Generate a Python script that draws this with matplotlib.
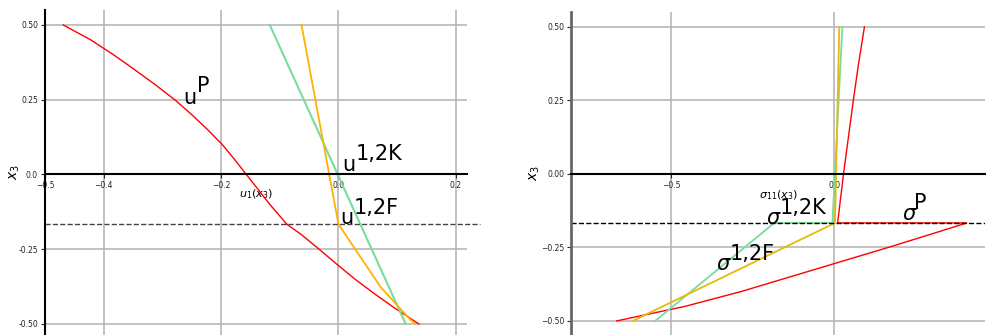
import numpy as np
import matplotlib
matplotlib.use('Agg')
import matplotlib.pyplot as plt

# Grenzfläche bei x3 = -1/6
x3_if = -1.0 / 6.0

# --- Verschiebung u1(x3) ---
x3_uP_oben = [0.5, 0.45, 0.4, 0.35, 0.3, 0.25, 0.2, 0.15, 0.1, 0.05, 0.0,
              -0.05, -0.1, x3_if]
uP_oben = [-0.469, -0.422, -0.383, -0.347, -0.312, -0.279, -0.250, -0.223,
           -0.198, -0.177, -0.157, -0.137, -0.117, -0.088]
x3_uP_unten = [x3_if, -0.2, -0.25, -0.3, -0.35, -0.4, -0.45, -0.5]
uP_unten = [-0.088, -0.064, -0.033, -0.003, 0.028, 0.062, 0.098, 0.137]

x3_uK = [0.5, -0.5]
uK = [-0.117, 0.1145]

x3_uF = [0.5, x3_if, -0.377, -0.483, -0.5]
uF = [-0.063, 0.0, 0.072, 0.121, 0.131]

# --- Spannung sigma11(x3) ---
x3_sP = [0.5, 0.375, 0.25, 0.125, 0.0, -0.083, x3_if,
         x3_if, -0.2, -0.25, -0.3, -0.35, -0.4, -0.45, -0.5]
sP = [0.092, 0.074, 0.058, 0.043, 0.028, 0.019, 0.010,
      0.405, 0.31, 0.165, 0.015, -0.135, -0.285, -0.455, -0.666]

x3_sK = [0.5, x3_if, x3_if, -0.5]
sK = [0.0245, -0.006, -0.184, -0.548]

x3_sF = [0.5, x3_if, -0.5]
sF = [0.015, 0.002, -0.617]

rot = 'red'
gruen = '#77dd99'
gelb_l = '#ffb300'
gelb_r = '#e8b90a'

fig = plt.figure(figsize=(9.87, 3.35), dpi=100)
ax1 = fig.add_axes([45/987, 0.0, 422/987, 325/335])
ax2 = fig.add_axes([571/987, 0.0, 414/987, 323/335])

for ax in (ax1, ax2):
    ax.spines['top'].set_visible(False)
    ax.spines['right'].set_visible(False)
    ax.spines['bottom'].set_position('zero')
    ax.spines['bottom'].set_linewidth(1.5)
    ax.grid(True, color='#b8b8b8', linewidth=1.2)
    ax.set_axisbelow(True)
    ax.tick_params(labelsize=5.5, length=3, pad=2, colors='#222222')

# linkes Diagramm
ax1.plot(uP_oben, x3_uP_oben, color=rot, lw=1.0)
ax1.plot(uP_unten, x3_uP_unten, color=rot, lw=1.0)
ax1.plot(uK, x3_uK, color=gruen, lw=1.5)
ax1.plot(uF, x3_uF, color=gelb_l, lw=1.3)
ax1.axhline(x3_if, xmin=0, xmax=(480-45)/422, color='#444444', lw=1.0,
            ls='--', clip_on=False)
ax1.set_xlim(-0.5, 0.219)
ax1.set_ylim(-0.537, 0.55)
ax1.set_xticks([-0.5, -0.4, -0.2, 0.0, 0.2])
ax1.set_xticklabels(['\u22120.5', '\u22120.4', '\u22120.2', '0.0', '0.2'])
ax1.set_yticks([-0.5, -0.25, 0.0, 0.25, 0.5])
ax1.set_yticklabels(['-0.50', '-0.25', '0.0', '0.25', '0.50'])
ax1.spines['left'].set_linewidth(1.5)
ax1.set_xlabel('$u_1(x_3)$', fontsize=8)
ax1.xaxis.set_label_coords(0.5, 0.455)
ax1.set_ylabel('$x_3$', fontsize=10)
ax1.yaxis.set_label_coords(-0.055, 0.5)

ax1.text(-0.265, 0.236, 'u', fontsize=15)
ax1.text(-0.2405, 0.275, 'P', fontsize=15)
ax1.text(0.0063, 0.011, 'u', fontsize=15)
ax1.text(0.029, 0.047, '1,2K', fontsize=15)
ax1.text(0.0029, -0.167, 'u', fontsize=15)
ax1.text(0.0256, -0.131, '1,2F', fontsize=15)

# rechtes Diagramm
ax2.plot(sP, x3_sP, color=rot, lw=1.0)
ax2.plot(sK, x3_sK, color=gruen, lw=1.3)
ax2.plot(sF, x3_sF, color=gelb_r, lw=1.3)
ax2.axhline(x3_if, color='black', lw=1.0, ls='--')
ax2.set_xlim(-0.806, 0.461)
ax2.set_ylim(-0.548, 0.551)
ax2.set_xticks([-0.5, 0.0])
ax2.set_yticks([-0.5, -0.25, 0.0, 0.25, 0.5])
ax2.spines['left'].set_linewidth(2)
ax2.spines['left'].set_color('#666666')
ax2.set_xlabel('$\\sigma_{11}(x_3)$', fontsize=8)
ax2.xaxis.set_label_coords(0.5, 0.455)
ax2.set_ylabel('$x_3$', fontsize=10)
ax2.yaxis.set_label_coords(-0.07, 0.5)

ax2.text(-0.208, -0.171, '$\\sigma$', fontsize=15)
ax2.text(-0.167, -0.135, '1,2K', fontsize=15)
ax2.text(-0.361, -0.326, '$\\sigma$', fontsize=15)
ax2.text(-0.32, -0.292, '1,2F', fontsize=15)
ax2.text(0.207, -0.158, '$\\sigma$', fontsize=15)
ax2.text(0.243, -0.118, 'P', fontsize=15)

fig.savefig('out.png', dpi=100)
